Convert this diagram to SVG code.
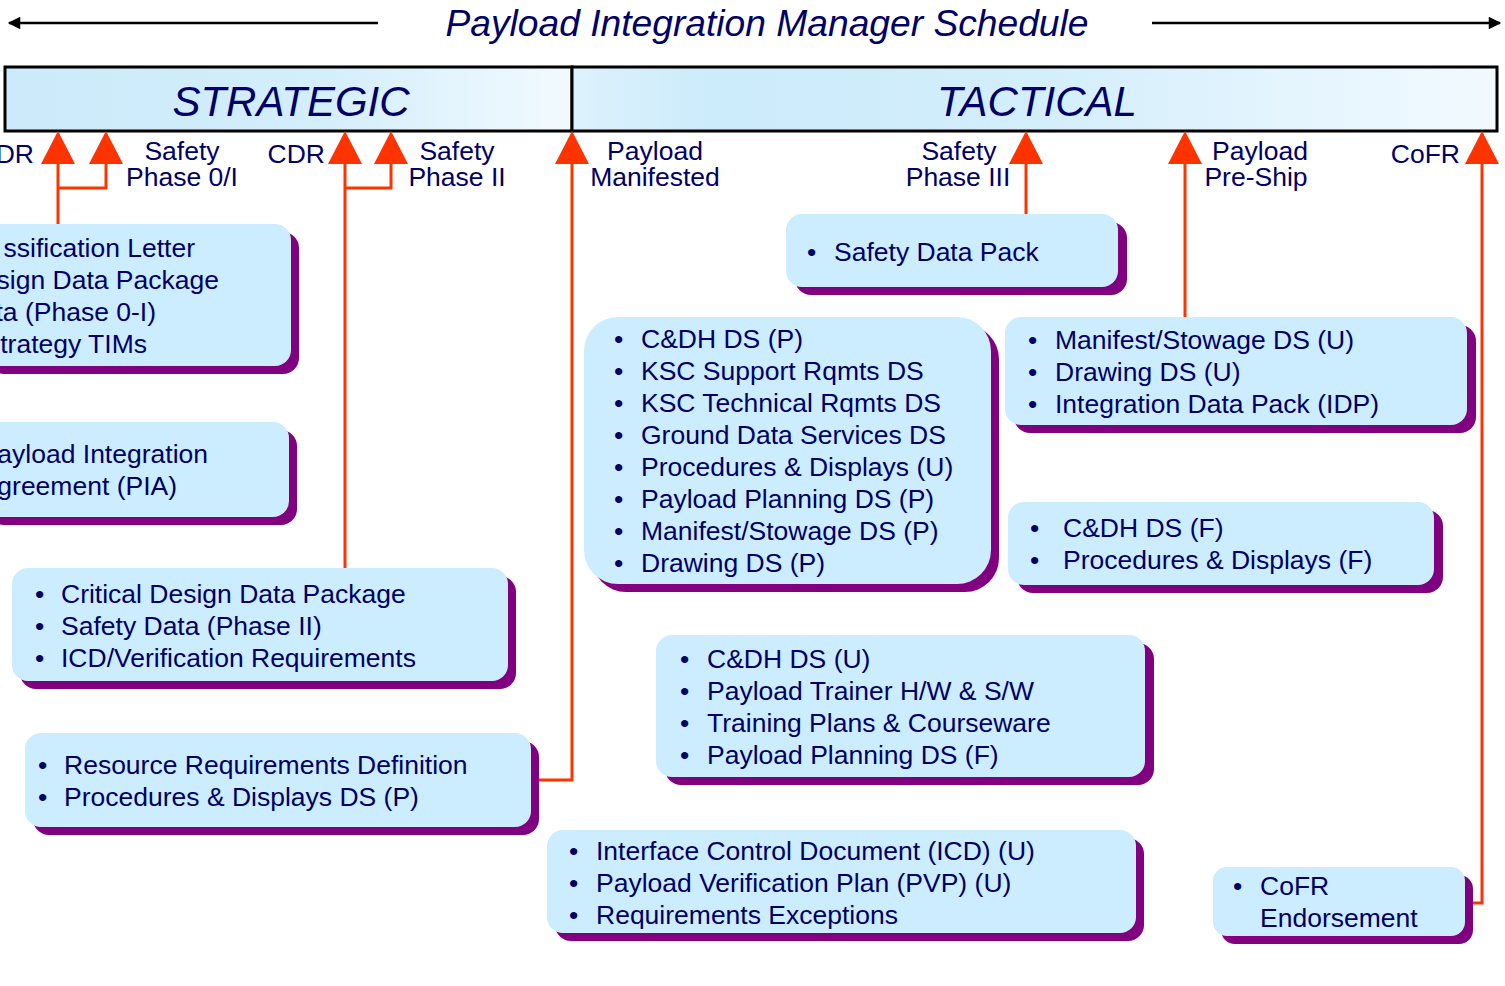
<svg xmlns="http://www.w3.org/2000/svg" width="1505" height="986" viewBox="0 0 1505 986">
<defs>
<linearGradient id="gS" x1="0" y1="0" x2="1" y2="0">
<stop offset="0" stop-color="#CCEAFA"/>
<stop offset="0.55" stop-color="#D3EEFC"/>
<stop offset="1" stop-color="#F2FAFF"/>
</linearGradient>
<linearGradient id="gT" x1="0" y1="0" x2="1" y2="0">
<stop offset="0" stop-color="#DDF2FD"/>
<stop offset="0.15" stop-color="#CCEBFB"/>
<stop offset="0.5" stop-color="#D3EEFC"/>
<stop offset="1" stop-color="#F2FAFF"/>
</linearGradient>
<marker id="ah" viewBox="0 0 10 10" refX="9" refY="5" markerWidth="6" markerHeight="5" orient="auto" markerUnits="strokeWidth">
<path d="M0,0 L10,5 L0,10 z" fill="#000"/>
</marker>
</defs>
<style>
text{font-family:"Liberation Sans",Arial,sans-serif;fill:#000066}
.title{font-size:37.2px;font-style:italic}
.hdr{font-size:42px;font-style:italic}
.lbl{font-size:26.5px}
.it{font-size:26.5px}
.box{fill:#CCECFF}
.sh{fill:#800080}
.red{stroke:#FF3300;stroke-width:3;fill:none}
.tri{fill:#FF3300}
</style>
<rect width="1505" height="986" fill="#fff"/>

<g id="title">
<text class="title" x="767" y="36" text-anchor="middle">Payload Integration Manager Schedule</text>
<line x1="378" y1="23" x2="9" y2="23" stroke="#000" stroke-width="2.5" marker-end="url(#ah)"/>
<line x1="1152" y1="23" x2="1500" y2="23" stroke="#000" stroke-width="2.5" marker-end="url(#ah)"/>
</g>

<g id="strategic">
<rect x="5" y="67" width="567" height="64" fill="url(#gS)" stroke="#000" stroke-width="3"/>
<text class="hdr" x="291" y="116" text-anchor="middle">STRATEGIC</text>
</g>
<g id="tactical">
<rect x="572" y="67" width="925" height="64" fill="url(#gT)" stroke="#000" stroke-width="3"/>
<text class="hdr" x="1037" y="116" text-anchor="middle">TACTICAL</text>
</g>

<g id="connectors">
<path class="red" d="M58,160 V224 M58,188 H106 V160"/>
<path class="red" d="M345,160 V568 M345,188 H391 V160"/>
<path class="red" d="M572,160 V780 H539"/>
<path class="red" d="M1026,160 V214"/>
<path class="red" d="M1185,160 V317"/>
<path class="red" d="M1482,160 V903 H1473"/>
<polygon class="tri" points="58,131 41,164 75,164"/>
<polygon class="tri" points="106,131 89,164 123,164"/>
<polygon class="tri" points="345,131 328,164 362,164"/>
<polygon class="tri" points="391,131 374,164 408,164"/>
<polygon class="tri" points="572,131 555,164 589,164"/>
<polygon class="tri" points="1026,131 1009,164 1043,164"/>
<polygon class="tri" points="1185,131 1168,164 1202,164"/>
<polygon class="tri" points="1482,131 1465,164 1499,164"/>
</g>

<g id="labels">
<text class="lbl" x="34" y="163" text-anchor="end">DR</text>
<text class="lbl" x="182" y="160" text-anchor="middle">Safety</text>
<text class="lbl" x="182" y="186" text-anchor="middle">Phase 0/I</text>
<text class="lbl" x="325" y="163" text-anchor="end">CDR</text>
<text class="lbl" x="457" y="160" text-anchor="middle">Safety</text>
<text class="lbl" x="457" y="186" text-anchor="middle">Phase II</text>
<text class="lbl" x="655" y="160" text-anchor="middle">Payload</text>
<text class="lbl" x="655" y="186" text-anchor="middle">Manifested</text>
<text class="lbl" x="959" y="160" text-anchor="middle">Safety</text>
<text class="lbl" x="958" y="186" text-anchor="middle">Phase III</text>
<text class="lbl" x="1260" y="160" text-anchor="middle">Payload</text>
<text class="lbl" x="1256" y="186" text-anchor="middle">Pre-Ship</text>
<text class="lbl" x="1460" y="163" text-anchor="end">CoFR</text>
</g>

<g id="boxA">
<rect class="sh" x="-12" y="232" width="311" height="142" rx="16"/>
<rect class="box" x="-20" y="224" width="311" height="142" rx="16"/>
<text class="it" x="195" y="257" text-anchor="end">ssification Letter</text>
<text class="it" x="219" y="289" text-anchor="end">sign Data Package</text>
<text class="it" x="156" y="321" text-anchor="end">ta (Phase 0-I)</text>
<text class="it" x="147" y="353" text-anchor="end">trategy TIMs</text>
</g>

<g id="boxB">
<rect class="sh" x="-12" y="430" width="309" height="95" rx="16"/>
<rect class="box" x="-20" y="422" width="309" height="95" rx="16"/>
<text class="it" x="208" y="463" text-anchor="end">ayload Integration</text>
<text class="it" x="177" y="495" text-anchor="end">greement (PIA)</text>
</g>

<g id="boxC">
<rect class="sh" x="20" y="576" width="496" height="113" rx="16"/>
<rect class="box" x="12" y="568" width="496" height="113" rx="16"/>
<text class="it" x="35" y="603">•<tspan x="61">Critical Design Data Package</tspan></text>
<text class="it" x="35" y="635">•<tspan x="61">Safety Data (Phase II)</tspan></text>
<text class="it" x="35" y="667">•<tspan x="61">ICD/Verification Requirements</tspan></text>
</g>

<g id="boxD">
<rect class="sh" x="33" y="741" width="506" height="94" rx="16"/>
<rect class="box" x="25" y="733" width="506" height="94" rx="16"/>
<text class="it" x="38" y="774">•<tspan x="64">Resource Requirements Definition</tspan></text>
<text class="it" x="38" y="806">•<tspan x="64">Procedures &amp; Displays DS (P)</tspan></text>
</g>

<g id="boxE">
<rect class="sh" x="795" y="222" width="332" height="73" rx="16"/>
<rect class="box" x="786" y="214" width="332" height="73" rx="16"/>
<text class="it" x="807" y="261">•<tspan x="834">Safety Data Pack</tspan></text>
</g>

<g id="boxF">
<rect class="sh" x="592" y="325" width="407" height="267" rx="34"/>
<rect class="box" x="584" y="317" width="407" height="267" rx="34"/>
<text class="it" x="614" y="348">•<tspan x="641">C&amp;DH DS (P)</tspan></text>
<text class="it" x="614" y="380">•<tspan x="641">KSC Support Rqmts DS</tspan></text>
<text class="it" x="614" y="412">•<tspan x="641">KSC Technical Rqmts DS</tspan></text>
<text class="it" x="614" y="444">•<tspan x="641">Ground Data Services DS</tspan></text>
<text class="it" x="614" y="476">•<tspan x="641">Procedures &amp; Displays (U)</tspan></text>
<text class="it" x="614" y="508">•<tspan x="641">Payload Planning DS (P)</tspan></text>
<text class="it" x="614" y="540">•<tspan x="641">Manifest/Stowage DS (P)</tspan></text>
<text class="it" x="614" y="572">•<tspan x="641">Drawing DS (P)</tspan></text>
</g>

<g id="boxG">
<rect class="sh" x="1014" y="325" width="462" height="108" rx="16"/>
<rect class="box" x="1005" y="317" width="462" height="108" rx="16"/>
<text class="it" x="1028" y="349">•<tspan x="1055">Manifest/Stowage DS (U)</tspan></text>
<text class="it" x="1028" y="381">•<tspan x="1055">Drawing DS (U)</tspan></text>
<text class="it" x="1028" y="413">•<tspan x="1055">Integration Data Pack (IDP)</tspan></text>
</g>

<g id="boxH">
<rect class="sh" x="1017" y="510" width="426" height="83" rx="16"/>
<rect class="box" x="1008" y="502" width="426" height="83" rx="16"/>
<text class="it" x="1030" y="537">•<tspan x="1063">C&amp;DH DS (F)</tspan></text>
<text class="it" x="1030" y="569">•<tspan x="1063">Procedures &amp; Displays (F)</tspan></text>
</g>

<g id="boxI">
<rect class="sh" x="665" y="643" width="489" height="142" rx="16"/>
<rect class="box" x="656" y="635" width="489" height="142" rx="16"/>
<text class="it" x="680" y="668">•<tspan x="707">C&amp;DH DS (U)</tspan></text>
<text class="it" x="680" y="700">•<tspan x="707">Payload Trainer H/W &amp; S/W</tspan></text>
<text class="it" x="680" y="732">•<tspan x="707">Training Plans &amp; Courseware</tspan></text>
<text class="it" x="680" y="764">•<tspan x="707">Payload Planning DS (F)</tspan></text>
</g>

<g id="boxJ">
<rect class="sh" x="555" y="838" width="589" height="103" rx="16"/>
<rect class="box" x="547" y="830" width="589" height="103" rx="16"/>
<text class="it" x="569" y="860">•<tspan x="596">Interface Control Document (ICD) (U)</tspan></text>
<text class="it" x="569" y="892">•<tspan x="596">Payload Verification Plan (PVP) (U)</tspan></text>
<text class="it" x="569" y="924">•<tspan x="596">Requirements Exceptions</tspan></text>
</g>

<g id="boxK">
<rect class="sh" x="1221" y="875" width="252" height="69" rx="14"/>
<rect class="box" x="1213" y="867" width="252" height="69" rx="14"/>
<text class="it" x="1233" y="895">•<tspan x="1260">CoFR</tspan></text>
<text class="it" x="1260" y="927">Endorsement</text>
</g>
</svg>
